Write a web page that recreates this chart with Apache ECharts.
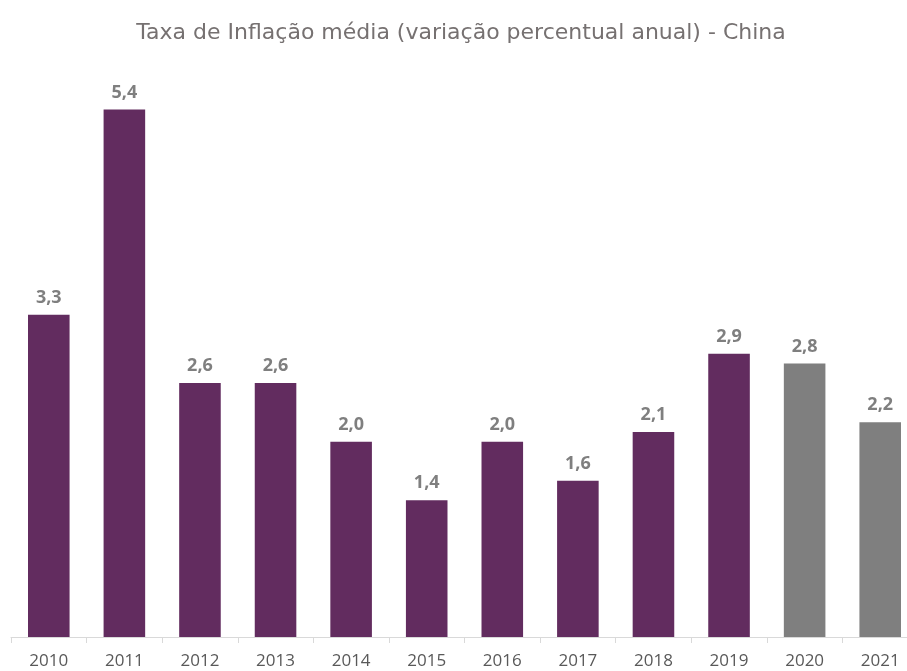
<!DOCTYPE html>
<html>
<head>
<meta charset="utf-8">
<script src="https://cdn.jsdelivr.net/npm/echarts@6/dist/echarts.min.js"></script>
<style>
  html, body { margin: 0; padding: 0; background: #fff; overflow: hidden; }
  /* the plot runs past the right edge in the original, so the canvas is a bit wider than the window */
  #chart { width: 918px; height: 671px; }
</style>
</head>
<body>
<div id="chart"></div>
<script>
const years = ['2010', '2011', '2012', '2013', '2014', '2015', '2016', '2017', '2018', '2019', '2020', '2021'];
const inflation = [3.3, 5.4, 2.6, 2.6, 2.0, 1.4, 2.0, 1.6, 2.1, 2.9, 2.8, 2.2];
const forecastYears = ['2020', '2021'];

const purple = '#622c5f';
const grey = '#7f7f7f';

const chart = echarts.init(document.getElementById('chart'));

chart.setOption({
    animation: false,
    title: {
        text: 'Taxa de Inflação média (variação percentual anual) - China',
        left: 456,
        textAlign: 'center',
        top: 17,
        textStyle: {
            fontFamily: 'DejaVu Sans',
            fontSize: 22,
            fontWeight: 'normal',
            color: '#767171'
        }
    },
    grid: {left: 11, right: 0, top: 51, bottom: 34, containLabel: false},
    xAxis: {
        type: 'category',
        data: years,
        axisLine: {lineStyle: {color: '#d9d9d9', width: 1}},
        axisTick: {show: true, length: 6, lineStyle: {color: '#d9d9d9'}},
        axisLabel: {
            color: '#595959',
            fontFamily: 'Open Sans',
            fontSize: 17,
            margin: 16
        }
    },
    yAxis: {
        type: 'value',
        min: 0,
        max: 6,
        show: false,
        splitLine: {show: false}
    },
    series: [{
        type: 'bar',
        barCategoryGap: '45%',
        data: inflation.map((v, i) => ({
            value: v,
            itemStyle: {color: forecastYears.includes(years[i]) ? grey : purple}
        })),
        label: {
            show: true,
            position: 'top',
            distance: 8,
            color: '#7f7f7f',
            fontFamily: 'Open Sans',
            fontWeight: 'bold',
            fontSize: 18,
            formatter: p => p.value.toFixed(1).replace('.', ',')
        }
    }]
});
</script>
</body>
</html>
